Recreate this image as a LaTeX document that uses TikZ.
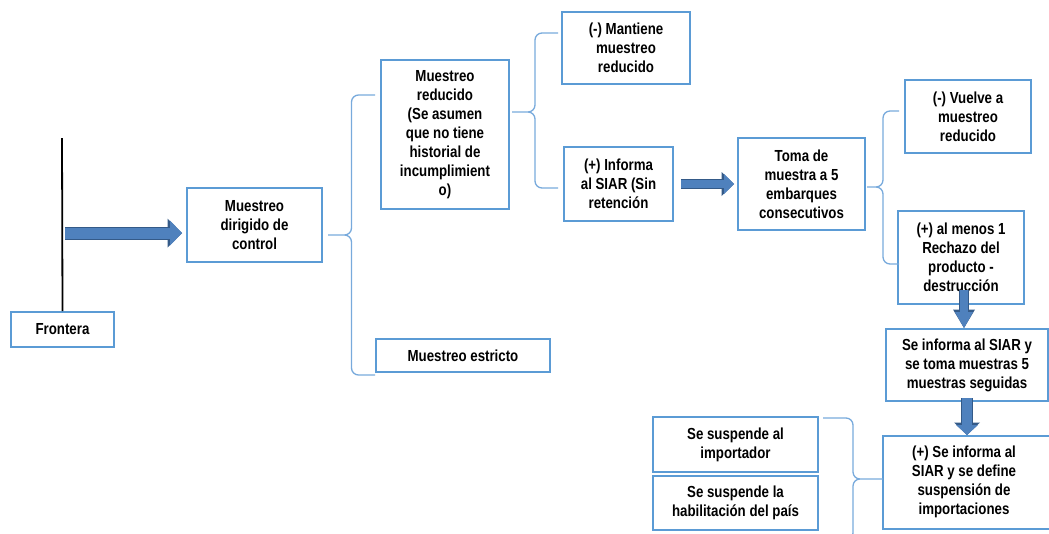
\documentclass[tikz,border=0pt]{standalone}
\usepackage{fontspec}
\setmainfont{Liberation Sans}[FakeStretch=0.83]
\usetikzlibrary{arrows.meta,calc}
\definecolor{boxblue}{RGB}{91,155,213}
\definecolor{bracketblue}{RGB}{120,170,220}
\definecolor{arrowfill}{RGB}{79,129,189}
\definecolor{arrowedge}{RGB}{52,90,136}

\begin{document}
\begin{tikzpicture}
    [ x=1pt, y=-1pt
    , box/.style={draw=boxblue, line width=2pt, align=center, inner sep=0pt,
        font=\bfseries\fontsize{16}{19}\selectfont}
    , half brace/.style={to path={-| ($(\tikztostart)!.5!(\tikztotarget)$) |- (\tikztotarget)}}
    , bracket/.style={draw=bracketblue, line width=1.3pt, rounded corners=7pt}
    , fat arrow/.code n args={3}{%
        \pgfmathsetlengthmacro\fatw{#1+2pt}%
        \pgfmathsetlengthmacro\fatl{#2+2.5pt}%
        \pgfmathsetlengthmacro\fath{#3+4pt}%
        \tikzset{draw=arrowfill, line width=#1,
          -{Triangle[length=#2, width=#3, line width=0pt]},
          preaction={draw=arrowedge, line width=\fatw,
            -{Triangle[length=\fatl, width=\fath, line width=0pt]}}}}
    ]
\useasboundingbox (0,0) rectangle (1049,533);

\node[box, minimum width=103pt, minimum height=35pt] (frontera) at (62.5,329.5) {Frontera};
\node[box, minimum width=135pt, minimum height=74pt] (dirigido) at (254.5,225)
    {Muestreo\\dirigido de\\control};
\node[box, minimum width=128pt, minimum height=149pt] (reducido) at (445,134.5)
    {Muestreo\\reducido\\(Se asumen\\que no tiene\\historial de\\incumplimient\\o)};
\node[box, minimum width=174pt, minimum height=33pt] (estricto) at (463,355.5) {Muestreo estricto};
\node[box, minimum width=128pt, minimum height=72pt] (mantiene) at (626,48)
    {(-) Mantiene\\muestreo\\reducido};
\node[box, minimum width=109pt, minimum height=74pt] (informa) at (618.5,184)
    {(+) Informa\\al SIAR (Sin\\retención};
\node[box, minimum width=127pt, minimum height=92pt] (toma) at (801.5,184)
    {Toma de\\muestra a 5\\embarques\\consecutivos};
\node[box, minimum width=126pt, minimum height=73pt] (vuelve) at (968,116.5)
    {(-) Vuelve a\\muestreo\\reducido};
\node[box, minimum width=126pt, minimum height=93pt] (rechazo) at (961,257.5)
    {(+) al menos 1\\Rechazo del\\producto -\\destrucción};
\node[box, minimum width=162pt, minimum height=72pt] (siar5) at (967,365)
    {Se informa al SIAR y\\se toma muestras 5\\muestras seguidas};
\node[box, minimum width=180pt, minimum height=93pt] (suspension) at (973,482.5)
    {\makebox[162pt]{\begin{tabular}{@{}c@{}}(+) Se informa al\\SIAR y se define\\suspensión de\\importaciones\end{tabular}}\hspace*{18pt}};
\node[box, minimum width=165pt, minimum height=55pt] (importador) at (735.5,444.5)
    {Se suspende al\\importador};
\node[box, minimum width=165pt, minimum height=54pt] (habilitacion) at (735.5,503)
    {Se suspende la\\habilitación del país};

% border line
\coordinate (linetop) at (62,138);
\draw[line width=1.8pt] (frontera.north) -- (linetop);

% brackets
\coordinate (b1top) at (375,95);
\coordinate (b1bot) at (375,375);
\coordinate (b1tip) at (328,235);
\draw[bracket] (b1top) to[half brace] (b1tip) (b1bot) to[half brace] (b1tip);
\coordinate (b2top) at (558,33);
\coordinate (b2bot) at (558,188);
\coordinate (b2tip) at (512,112);
\draw[bracket] (b2top) to[half brace] (b2tip) (b2bot) to[half brace] (b2tip);
\coordinate (b3top) at (899,111);
\coordinate (b3bot) at (899,264);
\coordinate (b3tip) at (867,187);
\draw[bracket] (b3top) to[half brace] (b3tip) (b3bot) to[half brace] (b3tip);
\coordinate (b4top) at (823,418);
\coordinate (b4bot) at (823,540);
\coordinate (b4tip) at (883,479);
\draw[bracket] (b4top) to[half brace] (b4tip) (b4bot) to[half brace] (b4tip);

% arrows
\coordinate (a1) at (65,233);
\draw[fat arrow={11pt}{12pt}{25pt}, shorten >=4pt] (a1) -- (a1 -| dirigido.west);
\draw[fat arrow={8pt}{10pt}{20pt}, shorten <=7pt, shorten >=3pt] (informa.east) -- (toma.west);
\coordinate (a3) at (964,290);
\draw[fat arrow={8pt}{16pt}{18pt}] (a3) -- (a3 |- siar5.north);
\draw[fat arrow={10pt}{10pt}{22pt}, shorten <=-4pt] (siar5.south) -- (siar5.south |- suspension.north);

\end{tikzpicture}
\end{document}
